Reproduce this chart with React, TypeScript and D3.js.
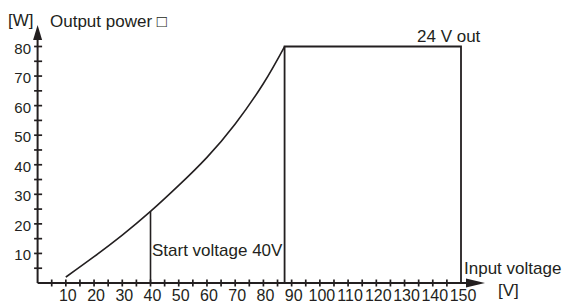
import React from 'react';
import * as d3 from 'd3';

// input voltage [V] vs output power [W]
const voltage = [10, 20, 30, 40, 50, 60, 70, 80, 87.5];
const power = [2.0, 8.9, 16.2, 24.2, 33.0, 42.5, 53.8, 67.5, 80];
const startVoltage = 40;
const limitVoltage = 87.5;
const maxVoltage = 150;
const maxPower = 80;

const xTickLabels = [10, 20, 30, 40, 50, 60, 70, 80, 90, 100, 110, 120, 130, 140, 150];
const xMinorTicks = d3.range(5, 150, 5);
const yTickLabels = [10, 20, 30, 40, 50, 60, 70, 80];
const yMinorTicks = d3.range(5, 85, 5);

const ink = '#231f20';
const font = '"Liberation Sans", Arial, sans-serif';

const App = () => {
  const x = d3.scaleLinear().domain([0, 150]).range([37.6, 461]);
  const y = d3.scaleLinear().domain([0, 80]).range([283, 46.5]);

  const pts: [number, number][] = voltage.map((v, i) => [v, power[i]]);
  const line = d3.line<[number, number]>()
    .x(d => x(d[0]))
    .y(d => y(d[1]))
    .curve(d3.curveNatural);

  const x0 = x(0);
  const y0 = y(0);
  const startP = power[3];

  return (
    <svg width={563} height={303} style={{ position: 'absolute', left: 0, top: 0, background: '#fff' }}
      fontFamily={font} fill={ink}>
      {/* axes */}
      <line x1={x0} y1={y0} x2={x0} y2={38} stroke={ink} strokeWidth={2} />
      <path d={`M${x0},25 L${x0 - 4.5},40 L${x0 + 4.5},40 Z`} fill={ink} />
      <line x1={x0} y1={y0} x2={468} y2={y0} stroke={ink} strokeWidth={2} />
      <path d={`M485,${y0} L466,${y0 - 4.5} L466,${y0 + 4.5} Z`} fill={ink} />

      {yMinorTicks.map(t => (
        <line key={'yt' + t} x1={x0 - 3.5} x2={x0 + 4.5} y1={y(t)} y2={y(t)} stroke={ink} strokeWidth={1.7} />
      ))}
      {xMinorTicks.map(t => (
        <line key={'xt' + t} x1={x(t)} x2={x(t)} y1={y0 - 3.5} y2={y0 + 3.5} stroke={ink} strokeWidth={1.7} />
      ))}
      {yTickLabels.map(t => (
        <text key={'yl' + t} x={31} y={y(t) + 7} fontSize={15} textAnchor="end">{t}</text>
      ))}
      {xTickLabels.map(t => (
        <text key={'xl' + t} x={x(t) + 2} y={301} fontSize={16} textAnchor="middle">{t}</text>
      ))}

      {/* curve and limits */}
      <path d={line(pts) || ''} fill="none" stroke={ink} strokeWidth={1.6} />
      <line x1={x(startVoltage)} x2={x(startVoltage)} y1={y(startP)} y2={y0} stroke={ink} strokeWidth={1.6} />
      <path
        d={`M${x(limitVoltage)},${y0} L${x(limitVoltage)},${y(maxPower)} L${x(maxVoltage)},${y(maxPower)} L${x(maxVoltage)},${y0}`}
        fill="none" stroke={ink} strokeWidth={1.8} />

      {/* labels */}
      <text x={8} y={26} fontSize={17}>[W]</text>
      <text x={50} y={27} fontSize={17}>Output power □</text>
      <text x={417} y={42} fontSize={17}>24 V out</text>
      <text x={152} y={256} fontSize={17}>Start voltage 40V</text>
      <text x={464} y={274} fontSize={17}>Input voltage</text>
      <text x={498} y={296} fontSize={17}>[V]</text>
    </svg>
  );
};

export default App;
